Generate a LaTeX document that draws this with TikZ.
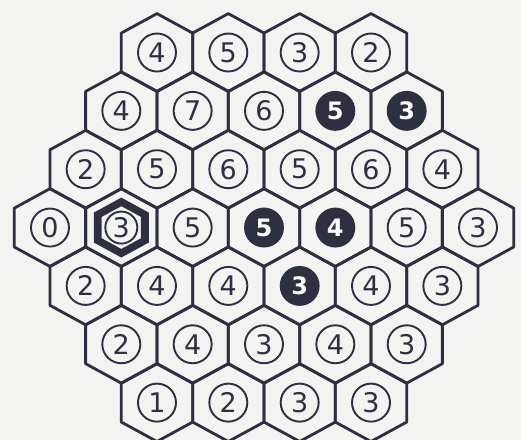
\documentclass[tikz,border=0pt]{standalone}
\usepackage{fontspec}
\setmainfont{DejaVu Sans}
\usepackage{xcolor}
\usepackage{tikz}
\definecolor{ink}{HTML}{2D3040}
\definecolor{paper}{HTML}{F3F3F1}
\tikzset{
  hexline/.style={draw=ink, line width=2.8pt, line join=round},
  num/.style={circle, draw=ink, line width=1.9pt, minimum size=38pt, inner sep=0pt,
    text=ink, font=\fontsize{27}{27}\selectfont},
  dark/.style={num, fill=ink, text=white, font=\fontsize{24}{24}\selectfont\bfseries},
  marked/.style={num, minimum size=32pt},
}
% one cell: x, y, name, style, number
\newcommand{\hexcell}[5]{%
  \draw[hexline] (#1,#2) ++(0,-2) -- ++(1,1) -- ++(0,2) -- ++(-1,1) -- ++(-1,-1) -- ++(0,-2) -- cycle;
  \node[#4] (#3) at (#1,#2) {#5};
}

\begin{document}
\begin{tikzpicture}[x=35.67pt, y=-19.45pt, line cap=round, line join=round]
  \fill[paper] (0,0) rectangle (14.606,22.622);
  \useasboundingbox (0,0) rectangle (14.606,22.622);

  \foreach \v/\s [count=\i from 0] in {4/num,5/num,3/num,2/num}
    {\hexcell{4.401+2*\i}{2.7}{h0\i}{\s}{\v}}
  \foreach \v/\s [count=\i from 0] in {4/num,7/num,6/num,5/dark,3/dark}
    {\hexcell{3.401+2*\i}{5.7}{h1\i}{\s}{\v}}
  \foreach \v/\s [count=\i from 0] in {2/num,5/num,6/num,5/num,6/num,4/num}
    {\hexcell{2.401+2*\i}{8.7}{h2\i}{\s}{\v}}

  % marked cell
  \coordinate (mark) at (3.401,11.7);
  \begin{scope}[shift={(mark)}]
    \fill[ink, even odd rule]
      (0,1.54) -- (0.77,0.77) -- (0.77,-0.77) -- (0,-1.54) -- (-0.77,-0.77) -- (-0.77,0.77) -- cycle
      (0,1.1) -- (0.55,0.55) -- (0.55,-0.55) -- (0,-1.1) -- (-0.55,-0.55) -- (-0.55,0.55) -- cycle;
  \end{scope}

  \foreach \v/\s [count=\i from 0] in {0/num,3/marked,5/num,5/dark,4/dark,5/num,3/num}
    {\hexcell{1.401+2*\i}{11.7}{h3\i}{\s}{\v}}
  \foreach \v/\s [count=\i from 0] in {2/num,4/num,4/num,3/dark,4/num,3/num}
    {\hexcell{2.401+2*\i}{14.7}{h4\i}{\s}{\v}}
  \foreach \v/\s [count=\i from 0] in {2/num,4/num,3/num,4/num,3/num}
    {\hexcell{3.401+2*\i}{17.7}{h5\i}{\s}{\v}}
  \foreach \v/\s [count=\i from 0] in {1/num,2/num,3/num,3/num}
    {\hexcell{4.401+2*\i}{20.7}{h6\i}{\s}{\v}}
\end{tikzpicture}
\end{document}
